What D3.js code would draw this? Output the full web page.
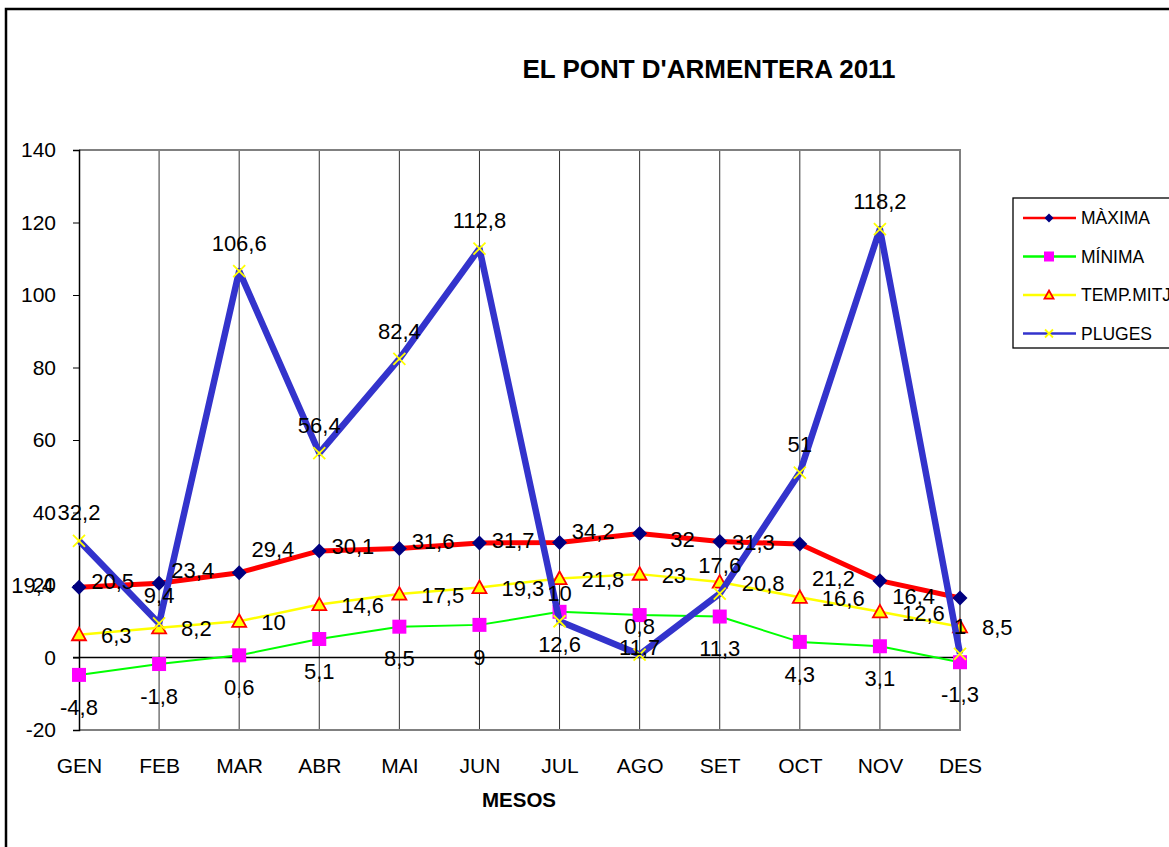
<!DOCTYPE html>
<html>
<head>
<meta charset="utf-8">
<script src="https://cdn.jsdelivr.net/npm/d3@7"></script>
<style>
  body { margin: 0; background: #fff; overflow: hidden; }
  text { font-family: "Liberation Sans", Arial, sans-serif; }
</style>
</head>
<body>
<div id="chart"></div>
<script>
// data
var months = ["GEN", "FEB", "MAR", "ABR", "MAI", "JUN", "JUL", "AGO", "SET", "OCT", "NOV", "DES"];
var maxima = [19.4, 20.5, 23.4, 29.4, 30.1, 31.6, 31.7, 34.2, 32, 31.3, 21.2, 16.4];
var minima = [-4.8, -1.8, 0.6, 5.1, 8.5, 9, 12.6, 11.7, 11.3, 4.3, 3.1, -1.3];
var tempMitj = [6.3, 8.2, 10, 14.6, 17.5, 19.3, 21.8, 23, 20.8, 16.6, 12.6, 8.5];
var pluges = [32.2, 9.4, 106.6, 56.4, 82.4, 112.8, 10, 0.8, 17.6, 51, 118.2, 1];
var yTicks = [-20, 0, 20, 40, 60, 80, 100, 120, 140];

var svgWidth = 1169;
var svgHeight = 847;

// plot area
var plot = { left: 79, right: 960, top: 150, bottom: 730 };

var svg = d3.select("#chart")
  .append("svg")
  .attr("width", svgWidth)
  .attr("height", svgHeight);

// chart border
svg.append("rect")
  .attr("x", 6).attr("y", 9)
  .attr("width", svgWidth + 20).attr("height", svgHeight + 20)
  .attr("fill", "none")
  .attr("stroke", "#000")
  .attr("stroke-width", 2.5);

var x = d3.scalePoint()
  .domain(months)
  .range([plot.left, plot.right]);

var y = d3.scaleLinear()
  .domain([-20, 140])
  .range([plot.bottom, plot.top]);

var fmt = function(v) { return String(v).replace(".", ","); };

// vertical gridlines
svg.append("g")
  .selectAll("line")
  .data(months.slice(1, -1))
  .enter()
  .append("line")
  .attr("x1", d => x(d)).attr("x2", d => x(d))
  .attr("y1", plot.top).attr("y2", plot.bottom)
  .attr("stroke", "#333")
  .attr("stroke-width", 1);

// plot frame (top, right, bottom)
svg.append("path")
  .attr("d", `M${plot.left},${plot.top}H${plot.right}V${plot.bottom}H${plot.left}`)
  .attr("fill", "none")
  .attr("stroke", "#808080")
  .attr("stroke-width", 2);

// y axis
var leftAxis = d3.axisLeft(y)
  .tickValues(yTicks)
  .tickSize(6)
  .tickPadding(17)
  .tickFormat(d => d);

var yAxis = svg.append("g")
  .attr("transform", `translate(${plot.left},0)`)
  .call(leftAxis);
yAxis.select(".domain").attr("stroke", "#000").attr("stroke-width", 1.5);
yAxis.selectAll(".tick line").attr("stroke", "#000");
yAxis.selectAll("text")
  .attr("font-size", "21px")
  .attr("fill", "#000")
  .style("font-family", "Liberation Sans, Arial, sans-serif");

// zero line (category axis)
svg.append("line")
  .attr("x1", plot.left - 6).attr("x2", plot.right)
  .attr("y1", y(0)).attr("y2", y(0))
  .attr("stroke", "#000")
  .attr("stroke-width", 1.3);

// category labels
var bottomAxis = d3.axisBottom(x).tickSize(0).tickPadding(28);
var xAxis = svg.append("g")
  .attr("transform", `translate(0,${plot.bottom})`)
  .call(bottomAxis);
xAxis.select(".domain").remove();
xAxis.selectAll("text")
  .attr("font-size", "21px")
  .attr("fill", "#000")
  .style("font-family", "Liberation Sans, Arial, sans-serif");

// title
svg.append("text")
  .attr("x", 709).attr("y", 78)
  .attr("text-anchor", "middle")
  .attr("font-size", "26px")
  .attr("font-weight", "bold")
  .text("EL PONT D'ARMENTERA 2011");

// x axis title
svg.append("text")
  .attr("x", 519).attr("y", 807)
  .attr("text-anchor", "middle")
  .attr("font-size", "20.5px")
  .attr("font-weight", "bold")
  .text("MESOS");

// marker drawers
function diamond(g, s) {
  g.append("path").attr("d", `M0,${-s}L${s},0L0,${s}L${-s},0Z`).attr("fill", "#000080");
}
function square(g, s) {
  g.append("rect").attr("x", -s).attr("y", -s).attr("width", 2 * s).attr("height", 2 * s).attr("fill", "#FF00FF");
}
function triangle(g, s) {
  g.append("path").attr("d", `M0,${-s}L${s},${s * 0.8}L${-s},${s * 0.8}Z`)
    .attr("fill", "#FFFF00").attr("stroke", "#FF0000").attr("stroke-width", 1.8);
}
function cross(g, s) {
  g.append("path").attr("d", `M${-s},${-s}L${s},${s}M${-s},${s}L${s},${-s}`)
    .attr("stroke", "#FFFF00").attr("stroke-width", 1.8);
}

var series = [
  { name: "MÀXIMA", values: maxima, color: "#FF0000", width: 5, marker: diamond, size: 7.5, legSize: 4.5,
    label: { dx: -25, dy: -2, anchor: "end" } },
  { name: "MÍNIMA", values: minima, color: "#00FF00", width: 2, marker: square, size: 7, legSize: 5,
    label: { dx: 0, dy: 32, anchor: "middle" } },
  { name: "TEMP.MITJANA", values: tempMitj, color: "#FFFF00", width: 2.5, marker: triangle, size: 7, legSize: 4.5,
    label: { dx: 22, dy: 1, anchor: "start" } },
  { name: "PLUGES", values: pluges, color: "#3333CC", width: 6.5, marker: cross, size: 6, legSize: 4,
    label: { dx: 0, dy: -28, anchor: "middle" } }
];

var line = d3.line()
  .x((d, i) => x(months[i]))
  .y(d => y(d));

series.forEach(function(s) {
  svg.append("path")
    .datum(s.values)
    .attr("d", line)
    .attr("fill", "none")
    .attr("stroke", s.color)
    .attr("stroke-width", s.width)
    .attr("stroke-linejoin", "round");

  svg.append("g")
    .selectAll("g")
    .data(s.values)
    .enter()
    .append("g")
    .attr("transform", (d, i) => `translate(${x(months[i])},${y(d)})`)
    .each(function() { s.marker(d3.select(this), s.size); });
});

// data labels on top of everything
series.forEach(function(s) {
  svg.append("g")
    .selectAll("text")
    .data(s.values)
    .enter()
    .append("text")
    .attr("x", (d, i) => x(months[i]) + s.label.dx)
    .attr("y", d => y(d) + s.label.dy)
    .attr("dy", "0.35em")
    .attr("text-anchor", s.label.anchor)
    .attr("font-size", "22px")
    .attr("fill", "#000")
    .text(d => fmt(d));
});

// legend
var legend = svg.append("g");
legend.append("rect")
  .attr("x", 1013).attr("y", 198)
  .attr("width", 200).attr("height", 150)
  .attr("fill", "#fff")
  .attr("stroke", "#000")
  .attr("stroke-width", 1.3);

var legendRows = legend.selectAll("g.row")
  .data(series)
  .enter()
  .append("g")
  .attr("class", "row")
  .attr("transform", (d, i) => `translate(0,${218 + i * 38.5})`);

legendRows.append("line")
  .attr("x1", 1023).attr("x2", 1076)
  .attr("y1", 0).attr("y2", 0)
  .attr("stroke", d => d.color)
  .attr("stroke-width", 2.5);

legendRows.append("g")
  .attr("transform", "translate(1049,0)")
  .each(function(d) { d.marker(d3.select(this), d.legSize); });

legendRows.append("text")
  .attr("x", 1081).attr("y", 0)
  .attr("dy", "0.35em")
  .attr("font-size", "17.5px")
  .text(d => d.name);
</script>
</body>
</html>
